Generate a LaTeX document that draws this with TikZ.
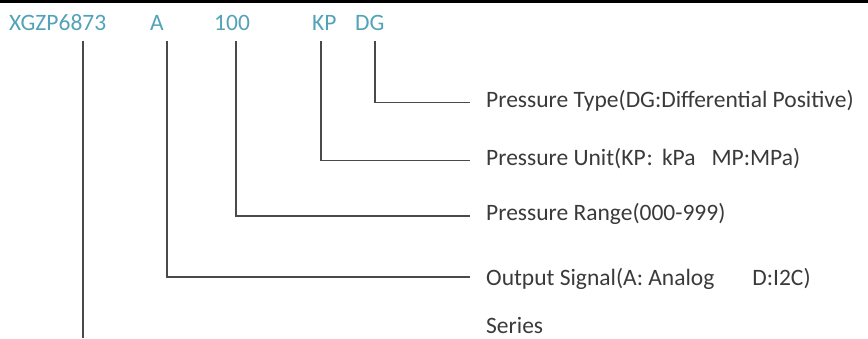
\documentclass[tikz,border=0pt]{standalone}
\usepackage{fontspec}
\setmainfont{Carlito}
\definecolor{codec}{HTML}{52A3B8}
\definecolor{desctext}{HTML}{3A3A3A}
\definecolor{linegray}{HTML}{4A4A4A}
\begin{document}
\begin{tikzpicture}[x=1pt,y=-1pt,
  code/.style={anchor=base west, inner sep=0, text=codec, font=\fontsize{23.5}{28}\selectfont},
  desc/.style={anchor=base west, inner sep=0, text=desctext, font=\fontsize{23.5}{28}\selectfont},
  conn/.style={draw=linegray, line width=1.2pt}]
\useasboundingbox (0,0) rectangle (868,338);
\fill[black] (0,0) rectangle (868,2.8);
% code parts
\node[code] (cS) at (9,30) {XGZP6873};
\node[code] (cA) at (150,30) {A};
\node[code] (cR) at (214,30) {100};
\node[code] (cK) at (312,30) {KP};
\node[code] (cD) at (355,30) {DG};
% descriptions
\node[desc] (dD) at (486,107) {Pressure Type(DG:Differential Positive)};
\node[desc] (dK) at (486,165.5) {Pressure Unit(KP\kern1pt:\kern9pt kPa\hspace{16pt}MP:MPa)};
\node[desc] (dR) at (486,220.7) {Pressure Range(000-999)};
\node[desc] (dA) at (486,285) {Output Signal(A: Analog\hspace{38pt}D:I2C)};
\node[desc] (dS) at (486,333) {Series};
% tick tops
\coordinate (tS) at (83,41);
\coordinate (tA) at (167,41);
\coordinate (tR) at (236,41);
\coordinate (tK) at (321,41);
\coordinate (tD) at (375,41);
% line ends
\coordinate (eS) at (83,338);
\coordinate (eA) at (470,277);
\coordinate (eR) at (470,216);
\coordinate (eK) at (470,160.5);
\coordinate (eD) at (470,102.5);
\draw[conn] (tS) -- (eS);
\draw[conn] (tA) |- (eA);
\draw[conn] (tR) |- (eR);
\draw[conn] (tK) |- (eK);
\draw[conn] (tD) |- (eD);
\end{tikzpicture}
\end{document}
